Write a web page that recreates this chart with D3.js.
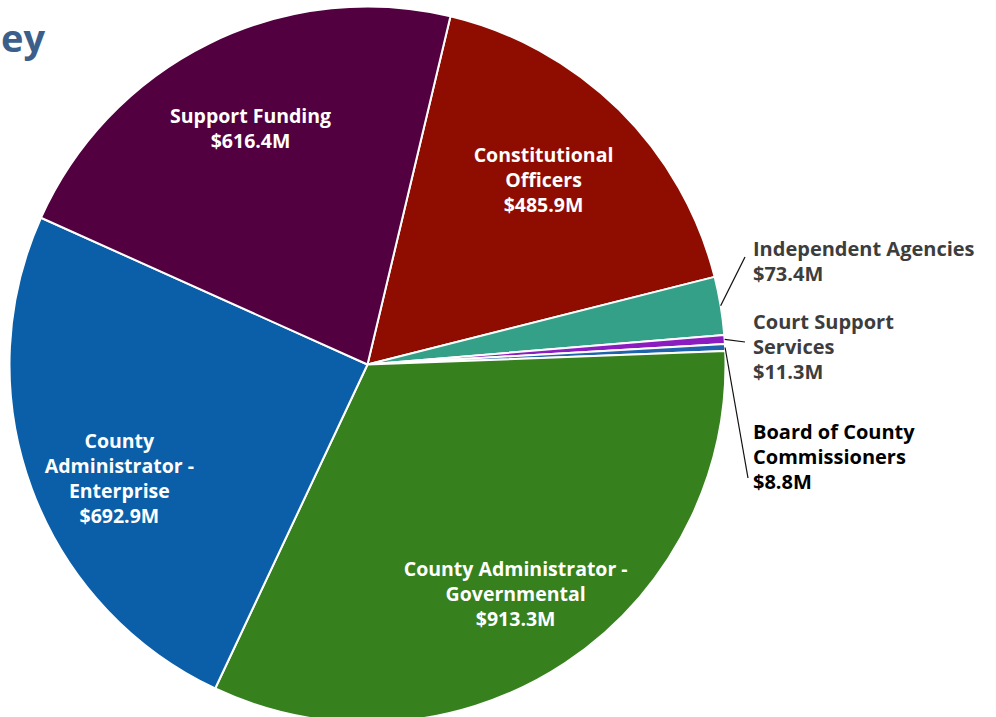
<!DOCTYPE html>
<html>
<head>
<meta charset="utf-8">
<script src="https://cdn.jsdelivr.net/npm/d3@7"></script>
<style>
  html, body { margin: 0; padding: 0; background: #fff; }
  svg { display: block; }
  text { font-family: "Open Sans", "Noto Sans", sans-serif; font-weight: 700; }
</style>
</head>
<body>
<svg id="chart" width="996" height="717"></svg>
<script>
// Budget by area, in millions of dollars (clockwise order)
const categories = [
  "Constitutional Officers",
  "Independent Agencies",
  "Court Support Services",
  "Board of County Commissioners",
  "County Administrator - Governmental",
  "County Administrator - Enterprise",
  "Support Funding"
];
const values = [485.9, 73.4, 11.3, 8.8, 913.3, 692.9, 616.4];
const valueLabels = ["$485.9M", "$73.4M", "$11.3M", "$8.8M", "$913.3M", "$692.9M", "$616.4M"];
// Label lines as wrapped on the page
const nameLines = [
  ["Constitutional", "Officers"],
  ["Independent Agencies"],
  ["Court Support", "Services"],
  ["Board of County", "Commissioners"],
  ["County Administrator -", "Governmental"],
  ["County", "Administrator -", "Enterprise"],
  ["Support Funding"]
];
const colors = ["#8f0d00", "#35a088", "#8b1cbf", "#1f63ab", "#37801e", "#0a5fa8", "#52003f"];

// Layout
const W = 996, H = 717;
const cx = 367.5, cy = 364.5, R = 358;
const startAngle = 13.4 * Math.PI / 180;

// Inside labels: placed relative to the slice centroid
const insideLayout = {
  0: { k: 0.72, dx: -5, dy: 0 },
  4: { k: 0.74, dx: 2, dy: 10 },
  5: { k: 0.76, dx: 7, dy: 21 },
  6: { k: 0.74, dx: 0, dy: 3 }
};
// Outside labels: text anchor point and leader end
const outsideLayout = {
  1: { tx: 753, ty: 256, lx: 745, ly: 257 },
  2: { tx: 753, ty: 329, lx: 745, ly: 342 },
  3: { tx: 753, ty: 439, lx: 748, ly: 478 }
};

const svg = d3.select("#chart");

// Cropped heading fragment at the top-left
svg.append("text")
  .attr("x", 1).attr("y", 52)
  .attr("fill", "#3b5f8a")
  .attr("font-size", 38)
  .attr("font-weight", 800)
  .text("ey");

const data = categories.map((c, i) => ({ name: c, value: values[i], label: valueLabels[i], lines: nameLines[i], color: colors[i], i }));

const pie = d3.pie()
  .value(d => d.value)
  .sort(null)
  .startAngle(startAngle)
  .endAngle(startAngle + 2 * Math.PI);

const arcs = pie(data);
const arc = d3.arc().innerRadius(0).outerRadius(R);

const g = svg.append("g").attr("transform", `translate(${cx},${cy})`);

g.selectAll("path.slice")
  .data(arcs)
  .join("path")
  .attr("class", "slice")
  .attr("d", arc)
  .attr("fill", d => d.data.color)
  .attr("stroke", "#fff")
  .attr("stroke-width", 2)
  .attr("stroke-linejoin", "round");

const lineH = 25;

// Labels inside the large slices
arcs.filter(a => insideLayout[a.data.i]).forEach(a => {
  const L = insideLayout[a.data.i];
  const mid = (a.startAngle + a.endAngle) / 2;
  const x = Math.sin(mid) * R * L.k + L.dx;
  const y = -Math.cos(mid) * R * L.k + L.dy;
  const lines = a.data.lines.concat([a.data.label]);
  const t = g.append("text")
    .attr("text-anchor", "middle")
    .attr("fill", "#fff")
    .attr("font-size", 19.5);
  const y0 = y - (lines.length - 1) * lineH / 2 + 6;
  lines.forEach((s, j) => {
    t.append("tspan").attr("x", x).attr("y", y0 + j * lineH).text(s);
  });
});

// Leader lines and labels for the thin slices
arcs.filter(a => outsideLayout[a.data.i]).forEach(a => {
  const L = outsideLayout[a.data.i];
  const mid = (a.startAngle + a.endAngle) / 2;
  const x0 = cx + Math.sin(mid) * R;
  const y0 = cy - Math.cos(mid) * R;
  svg.append("line")
    .attr("x1", x0).attr("y1", y0)
    .attr("x2", L.lx).attr("y2", L.ly)
    .attr("stroke", "#111")
    .attr("stroke-width", 1.2);
  const lines = a.data.lines.concat([a.data.label]);
  const t = svg.append("text")
    .attr("fill", a.data.i === 3 ? "#000" : "#3d3d3d")
    .attr("font-size", 20);
  lines.forEach((s, j) => {
    t.append("tspan").attr("x", L.tx).attr("y", L.ty + j * lineH).text(s);
  });
});
</script>
</body>
</html>
